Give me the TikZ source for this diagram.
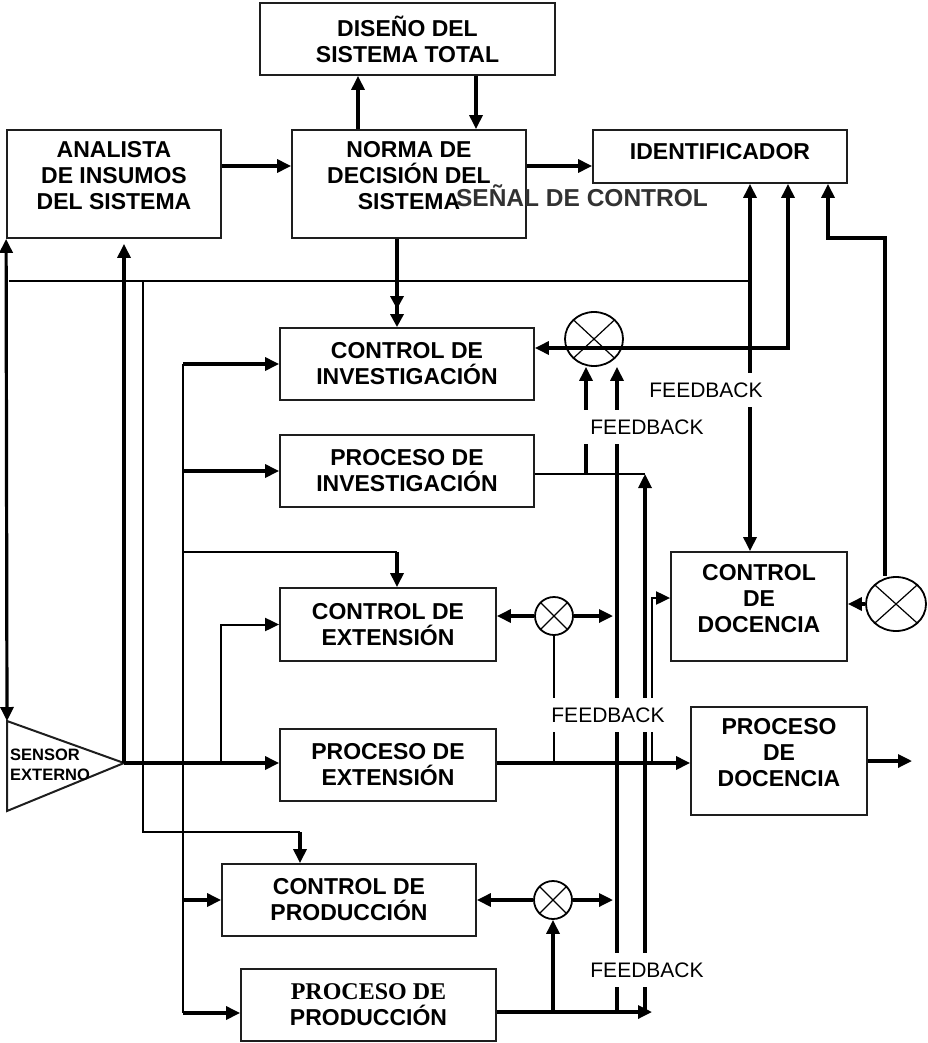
\documentclass[tikz,border=0pt]{standalone}
\usepackage{fontspec}
\setmainfont{Liberation Sans}
\newfontfamily\serifbf{Liberation Serif}
\usepackage{tikz}
\usetikzlibrary{arrows.meta,shapes.geometric}
\definecolor{sgray}{RGB}{50,50,50}
\definecolor{bdr}{RGB}{30,30,30}
\tikzset{
  blk/.style={draw=bdr, line width=1.8pt, inner sep=0pt, align=center, font=\fontsize{23}{26}\selectfont\bfseries},
  txt/.style={align=center, inner sep=0pt, font=\fontsize{23}{26}\selectfont\bfseries},
  sj/.style={ellipse, draw, line width=1.8pt, inner sep=0pt,
    path picture={\draw[line width=1.2pt] (path picture bounding box.north west) -- (path picture bounding box.south east)
      (path picture bounding box.north east) -- (path picture bounding box.south west);}},
  tk/.style={line width=3.2pt},
  ln/.style={line width=2pt},
  fb/.style={fill=white, inner xsep=5pt, inner ysep=10pt, font=\fontsize{21}{21}\selectfont},
  >={Triangle[length=14pt,width=13pt]}
}

\begin{document}
\begin{tikzpicture}[x=1pt,y=-1pt]
  \useasboundingbox (0,0) rectangle (927,1043);
  % boxes
  \node[blk, minimum width=295pt, minimum height=72pt] (dis) at (407.5,39) {DISEÑO DEL\\SISTEMA TOTAL};
  \node[blk, minimum width=214pt, minimum height=108pt,
        label={[txt,yshift=8pt,name=anaT]center:{ANALISTA\\DE INSUMOS\\DEL SISTEMA}}] (ana) at (114,184) {};
  \node[blk, minimum width=234pt, minimum height=108pt,
        label={[txt,yshift=8pt,name=norT]center:{NORMA DE\\DECISIÓN DEL\\SISTEMA}}] (nor) at (409,184) {};
  \node[blk, minimum width=254pt, minimum height=53pt,
        label={[txt,yshift=5pt,name=ideT]center:IDENTIFICADOR}] (ide) at (720,156.5) {};
  \node[txt, anchor=base, text=sgray, font=\fontsize{24.5}{26}\selectfont\bfseries] (sen) at (582,206.5) {SEÑAL DE CONTROL};
  \node[blk, minimum width=254pt, minimum height=72pt] (cinv) at (407,364) {CONTROL DE\\INVESTIGACIÓN};
  \node[blk, minimum width=254pt, minimum height=72pt] (pinv) at (407,471) {PROCESO DE\\INVESTIGACIÓN};
  \node[blk, minimum width=216pt, minimum height=73pt] (cext) at (388,624.5) {CONTROL DE\\EXTENSIÓN};
  \node[blk, minimum width=216pt, minimum height=72pt] (pext) at (388,765) {PROCESO DE\\EXTENSIÓN};
  \node[blk, minimum width=254pt, minimum height=72pt] (cpro) at (349,900) {CONTROL DE\\PRODUCCIÓN};
  \node[blk, minimum width=255pt, minimum height=72pt] (ppro) at (368.5,1005)
    {{\serifbf\fontsize{24}{26}\selectfont PROCESO DE}\\PRODUCCIÓN};
  \node[blk, minimum width=176pt, minimum height=109pt,
        label={[txt,yshift=7.5pt,name=cdocT]center:{CONTROL\\DE\\DOCENCIA}}] (cdoc) at (759,606.5) {};
  \node[blk, minimum width=176pt, minimum height=108pt,
        label={[txt,yshift=8pt,name=pdocT]center:{PROCESO\\DE\\DOCENCIA}}] (pdoc) at (779,761) {};

  % sensor
  \coordinate (sTop) at (7,721);
  \coordinate (sBot) at (7,811);
  \coordinate (tip) at (124,763);
  \draw[ln, draw=bdr] (sTop) -- (tip) -- (sBot) -- cycle;
  \node[align=left, inner sep=0pt, anchor=west, font=\fontsize{16.5}{19.5}\selectfont\bfseries] (sensT) at (10,765) {SENSOR\\EXTERNO};

  % summing points
  \node[sj, minimum width=58pt, minimum height=54pt] (x1) at (594,339) {};
  \node[sj, minimum width=38pt, minimum height=38pt] (x2) at (554,616) {};
  \node[sj, minimum width=60pt, minimum height=54pt] (x3) at (896,604) {};
  \node[sj, minimum width=38pt, minimum height=38pt] (x4) at (553,900) {};

  % helper points
  \coordinate (u1) at (358,0);
  \coordinate (d1) at (476,0);
  \coordinate (d2) at (397,0);
  \coordinate (h1) at (0,166);
  \coordinate (busL) at (9,281);
  \coordinate (busR) at (750,281);
  \coordinate (tap) at (143,281);
  \coordinate (tapB) at (143,832);
  \coordinate (tapR) at (300,832);
  \coordinate (busT) at (183,364);
  \coordinate (busB) at (183,1013);
  \coordinate (extT) at (183,552);
  \coordinate (dn) at (397,552);
  \coordinate (j7) at (221,763);
  \coordinate (c1) at (788,348);
  \coordinate (c2) at (828,238);
  \coordinate (c3) at (885,238);
  \coordinate (j1) at (586,474);
  \coordinate (pinvR) at (645,474);
  \coordinate (j2) at (617,1012);
  \coordinate (k1) at (645,1012);
  \coordinate (j3) at (553,1012);
  \coordinate (botR) at (652,1012);
  \coordinate (x2R) at (613,616);
  \coordinate (x4R) at (613,900);
  \coordinate (j4) at (554,763);
  \coordinate (j5) at (652,763);
  \coordinate (j6) at (652,598);
  \coordinate (outR) at (912,761);

  % top part
  \draw[tk,->] (nor.north -| u1) -- (dis.south -| u1);
  \draw[tk,->] (dis.south -| d1) -- (nor.north -| d1);
  \draw[tk,->] (ana.east |- h1) -- (nor.west |- h1);
  \draw[tk,->] (nor.east |- h1) -- (ide.west |- h1);
  \draw[tk,-{Triangle[length=13pt,width=13pt,sep=5pt]Triangle[length=13pt,width=13pt]}] (nor.south -| d2) -- (cinv.north -| d2);

  % left side
  \draw[tk,<->] (ana.south west) -- (sTop);
  \draw[tk,->,shorten >=5pt] (tip) -- (tip |- ana.south);
  \draw[ln] (busL) -- (busR);
  \draw[ln] (tap) -- (tapB) -- (tapR);
  \draw[tk,->] (tapR) -- (tapR |- cpro.north);
  \draw[ln] (busT) -- (busB);
  \draw[tk,->] (busT) -- (cinv.west);
  \draw[tk,->] (busT |- pinv.west) -- (pinv.west);
  \draw[ln] (extT) -- (dn);
  \draw[tk,->] (dn) -- (dn |- cext.north);
  \draw[tk,->] (busT |- cpro.west) -- (cpro.west);
  \draw[tk,->] (busB) -- (busB -| ppro.west);
  \draw[ln,->] (j7) |- (cext.west);
  \draw[tk,->] (tip) -- (tip -| pext.west);

  % feedback to identificador
  \draw[tk,<->] (ide.south -| busR) -- (cdoc.north -| busR);
  \draw[tk,<->] (ide.south -| c1) |- (cinv.east |- c1);
  \draw[tk,<-] (ide.south -| c2) -- (c2) -- (c3) -- (x3.north -| c3);
  \draw[tk,->] (x3.west) -- (x3.west -| cdoc.east);

  % investigacion loop
  \draw[tk,->] (j1) -- (x1.south -| j1);
  \draw[tk,->] (j2) -- (x1.south -| j2);
  \draw[ln] (pinv.east |- j1) -- (pinvR);
  \draw[tk,->] (k1) -- (pinvR);

  % extension loop
  \draw[tk,->] (x2.west) -- (x2.west -| cext.east);
  \draw[tk,->] (x2.east) -- (x2R);
  \draw[ln] (x2.south) -- (j4);
  \draw[tk,->] (pext.east |- tip) -- (tip -| pdoc.west);
  \draw[ln,->] (j5) -- (j6) -- (j6 -| cdoc.west);
  \draw[tk,->] (pdoc.east) -- (outR);

  % produccion loop
  \draw[tk,->] (ppro.east |- botR) -- (botR);
  \draw[tk,->] (j3) -- (x4.south);
  \draw[tk,->] (x4.west) -- (x4.west -| cpro.east);
  \draw[tk,->] (x4.east) -- (x4R);

  % labels
  \node[fb] (fb1) at (706,390) {FEEDBACK};
  \node[fb, inner xsep=9pt] (fb2) at (647,427) {FEEDBACK};
  \node[fb] (fb3) at (608,715) {FEEDBACK};
  \node[fb] (fb4) at (647,970) {FEEDBACK};
\end{tikzpicture}
\end{document}
